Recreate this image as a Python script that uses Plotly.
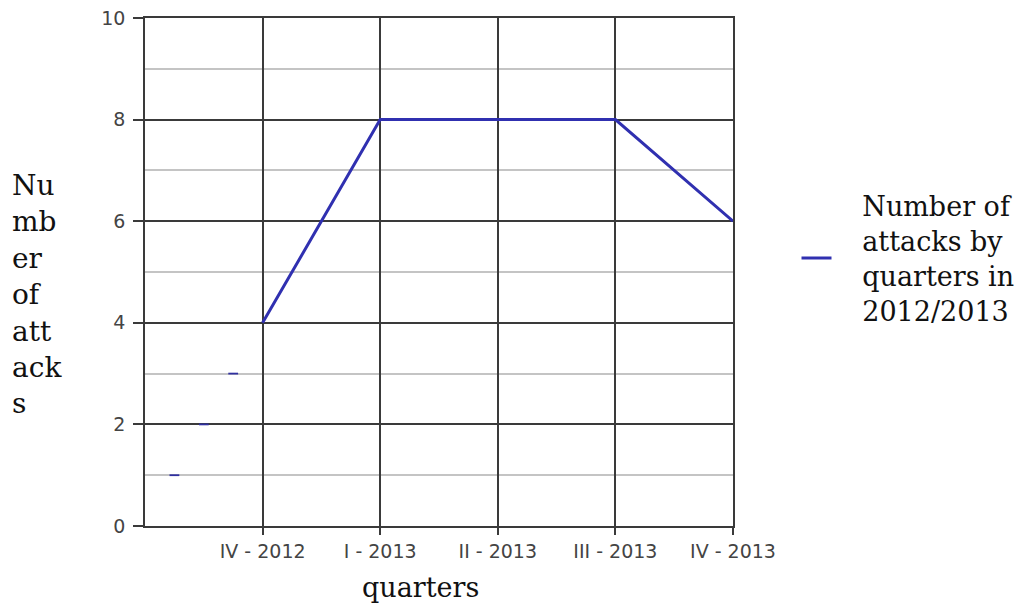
import plotly.graph_objects as go

# ---- data ----
quarters = ["IV - 2012", "I - 2013", "II - 2013", "III - 2013", "IV - 2013"]
positions = [1, 2, 3, 4, 5]
attacks = [4, 8, 8, 8, 6]

stray_x = [0.25, 0.5, 0.75]
stray_y = [1, 2, 3]

y_ticks = [0, 2, 4, 6, 8, 10]

legend_lines = ["Number of", "attacks by", "quarters in", "2012/2013"]
ytitle_lines = ["Nu", "mb", "er", "of", "att", "ack", "s"]
xtitle = "quarters"

SERIF = "DejaVu Serif"
SANS = "DejaVu Sans"
LINE_COLOR = "#3030b0"
DARK = "#3a3a3a"
LIGHT = "#c4c4c4"

pad = "\u00a0\u00a0\u00a0"
legend_text = "<br>".join(pad + s for s in legend_lines)

fig = go.Figure()
fig.add_trace(go.Scatter(
    x=positions, y=attacks, mode="lines",
    line=dict(color=LINE_COLOR, width=3),
    name=legend_text, showlegend=True,
))
fig.add_trace(go.Scatter(
    x=stray_x, y=stray_y, mode="markers",
    marker=dict(symbol="line-ew", size=7, line=dict(color="#3030a0", width=1.8)),
    showlegend=False, hoverinfo="skip",
))

fig.update_layout(
    width=1020, height=605,
    margin=dict(l=145, r=287, t=18, b=79, autoexpand=False),
    paper_bgcolor="white", plot_bgcolor="white",
    showlegend=True,
    legend=dict(
        x=1.108, y=0.527, xanchor="left", yanchor="middle",
        font=dict(family=SERIF, size=27, color="#111111"),
        bgcolor="rgba(0,0,0,0)", borderwidth=0,
    ),
    xaxis=dict(
        range=[0, 5], tickmode="array", tickvals=positions, ticktext=quarters,
        showgrid=True, gridcolor=DARK, gridwidth=1.5,
        showline=True, linecolor=DARK, linewidth=1.5, mirror=True,
        ticks="outside", ticklen=7, tickcolor=DARK, tickwidth=1.5,
        tickfont=dict(family=SANS, size=19, color="#444444"),
        zeroline=False, automargin=False,
    ),
    yaxis=dict(
        range=[0, 10], tickmode="array", tickvals=y_ticks,
        showgrid=True, gridcolor=DARK, gridwidth=1.5,
        minor=dict(dtick=1, showgrid=True, gridcolor=LIGHT, gridwidth=1.5),
        showline=True, linecolor=DARK, linewidth=1.5, mirror=True,
        ticks="outside", ticklen=10, tickcolor=DARK, tickwidth=1.5,
        tickfont=dict(family=SANS, size=19, color="#444444"),
        ticklabelstandoff=4,
        zeroline=False, automargin=False,
    ),
    annotations=[
        dict(text="<br>".join(ytitle_lines), xref="paper", yref="paper",
             x=-0.229, y=0.456, xanchor="left", yanchor="middle", align="left",
             showarrow=False, font=dict(family=SERIF, size=28, color="#111111")),
        dict(text=xtitle, xref="paper", yref="paper",
             x=0.468, y=-0.122, xanchor="center", yanchor="middle",
             showarrow=False, font=dict(family=SERIF, size=27, color="#111111")),
    ],
)

fig.write_html("out.html", config={"displayModeBar": False},
               post_script="document.body.style.margin='0px';")
